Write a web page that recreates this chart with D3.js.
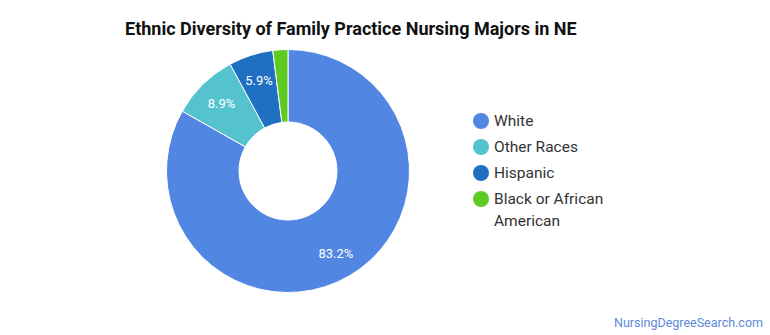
<!DOCTYPE html>
<html><head><meta charset="utf-8">
<script src="https://cdn.jsdelivr.net/npm/d3@7"></script>
<style>body{margin:0;background:#fff;font-family:Roboto,sans-serif}</style>
</head><body>
<svg id="c" width="770" height="335"></svg>
<script>
const categories = ["White", "Other Races", "Hispanic", "Black or African American"];
const values = [83.2, 8.9, 5.9, 2.0];
const colors = ["#5186e2", "#54c3cd", "#1f70c0", "#5fca22"];
const legendLines = [["White"], ["Other Races"], ["Hispanic"], ["Black or African", "American"]];

const svg = d3.select("#c");
svg.append("text").attr("x", 125).attr("y", 35).attr("font-size", 18).attr("font-weight", "bold")
  .attr("fill", "#111").text("Ethnic Diversity of Family Practice Nursing Majors in NE");

const cx = 288, cy = 171, R = 121.5, r0 = 49;
const data = categories.map((c, i) => ({c, v: values[i], col: colors[i]}));
const pie = d3.pie().value(d => d.v).sort(null);
const arc = d3.arc().innerRadius(r0).outerRadius(R);
const labArc = d3.arc().innerRadius(95).outerRadius(95);
const g = svg.append("g").attr("transform", `translate(${cx},${cy})`);
const arcs = pie(data);
g.selectAll("path").data(arcs).join("path").attr("d", arc).attr("fill", d => d.data.col)
  .attr("stroke", "#fff").attr("stroke-width", 1);
g.selectAll("text").data(arcs.filter(d => d.data.v >= 5)).join("text")
  .attr("transform", d => `translate(${labArc.centroid(d)})`)
  .attr("text-anchor", "middle").attr("dominant-baseline", "central")
  .attr("font-size", 13).attr("fill", "#fff").text(d => d.data.v.toFixed(1) + "%");

const lg = svg.append("g");
let y = 121;
legendLines.forEach((lines, i) => {
  lg.append("circle").attr("cx", 481).attr("cy", y).attr("r", 8).attr("fill", colors[i]);
  lines.forEach((t, j) => {
    lg.append("text").attr("x", 494).attr("y", y + j * 22).attr("dominant-baseline", "central")
      .attr("font-size", 15.5).attr("fill", "#333").text(t);
  });
  y += 26;
});

svg.append("text").attr("x", 763).attr("y", 322).attr("text-anchor", "end").attr("dominant-baseline", "central")
  .attr("font-size", 12.5).attr("fill", "#5b8ad8").text("NursingDegreeSearch.com");
</script>
</body></html>
